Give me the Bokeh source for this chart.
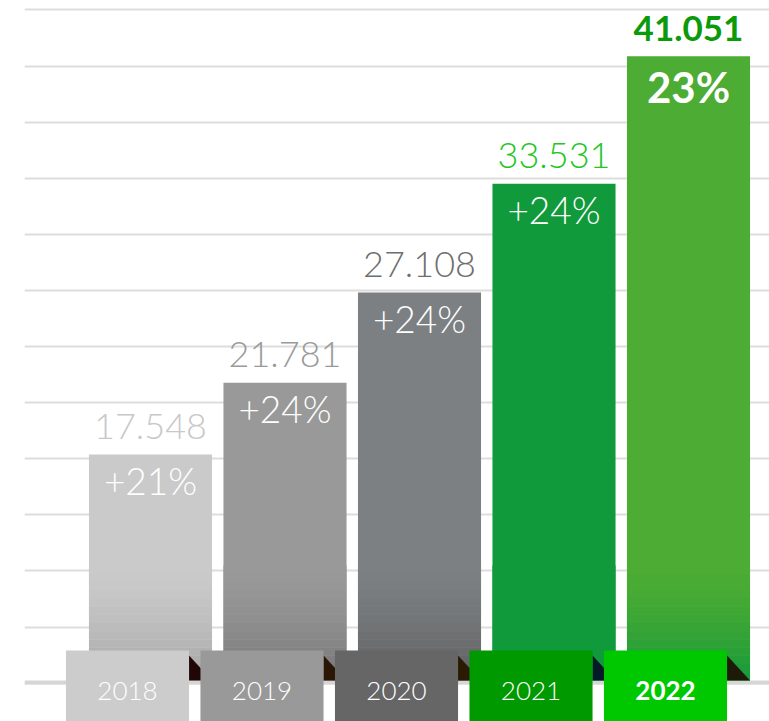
import numpy as np
from bokeh.plotting import figure
from bokeh.models import ColumnDataSource, Range1d, Grid, SingleIntervalTicker, BoxAnnotation
from bokeh.embed import file_html
from bokeh.resources import INLINE

# ---------------- data ----------------
YEARS = ["2018", "2019", "2020", "2021", "2022"]
VALUES = [17548, 21781, 27108, 33531, 41051]
GROWTH = ["+21%", "+24%", "+24%", "+24%", "23%"]

# ---------------- styles ----------------
BAR_TOP = ["#cacaca", "#999999", "#7c8083", "#119a3b", "#4cac34"]
BAR_BOTTOM = ["#a4a4a4", "#767676", "#5e5e5e", "#119a3b", "#14993a"]
VALUE_COLORS = ["#c8c8c8", "#9a9a9a", "#6e6e6e", "#22c622", "#0a9a0a"]
TAB_COLORS = ["#cccccc", "#999999", "#666666", "#009900", "#00c800"]
FOLD_COLORS = ["#200606", "#2a1604", "#2a1c04", "#041a28", "#1e1a0a"]
HIGHLIGHT = [False, False, False, False, True]

LIGHT_FONT = "Lato Light, Lato"
BOLD_FONT = "Lato"

W, H = 769, 721
LEFT_PAD = 24
PX_PER_UNIT = 0.01694        # pixels per value unit
BASE = 4203                  # value at baseline
BASE_PX = 41                 # baseline height above frame bottom (px)
Y0 = BASE - BASE_PX / PX_PER_UNIT
Y1 = Y0 + H / PX_PER_UNIT

BAR_W = 0.915
TAB_SHIFT = -0.171
TAB_H = 30 / PX_PER_UNIT
FOLD_H = 25 / PX_PER_UNIT
GRAD_H = 115 / PX_PER_UNIT
N_GRAD = 14

p = figure(width=W, height=H, output_backend="svg", toolbar_location=None,
           x_range=Range1d(-0.9368, 4.6022), y_range=Range1d(Y0, Y1),
           x_axis_location=None, y_axis_location=None,
           min_border_left=LEFT_PAD, min_border_right=0,
           min_border_top=0, min_border_bottom=0)
p.outline_line_color = None
p.xgrid.visible = False
p.ygrid.visible = False
p.background_fill_color = "white"
p.border_fill_color = "white"

# ---------------- grid lines ----------------
p.extra_y_ranges = {"grid": Range1d(start=-0.683, end=12.169)}
grid = Grid(dimension=1, ticker=SingleIntervalTicker(interval=1), y_range_name="grid",
            grid_line_color="#dddddd", grid_line_width=2, level="underlay")
p.add_layout(grid)

# baseline strip
p.add_layout(BoxAnnotation(bottom=BASE - 4 / PX_PER_UNIT, top=BASE, fill_color="#d6d6d6",
                           fill_alpha=1, line_color=None, level="underlay"))

idx = np.arange(len(YEARS))
vals = np.array(VALUES, dtype=float)

# ---------------- bars ----------------
bars = ColumnDataSource(dict(
    left=idx - BAR_W / 2, right=idx + BAR_W / 2,
    bottom=[BASE] * len(idx), top=vals, color=BAR_TOP))
p.quad(left="left", right="right", bottom="bottom", top="top", source=bars,
       fill_color="color", line_color=None)

# gradient at bar bottoms
def hex2rgb(h):
    h = h.lstrip("#")
    return np.array([int(h[k:k + 2], 16) for k in (0, 2, 4)], dtype=float)

gl, gr, gb, gt, gc = [], [], [], [], []
for i in idx:
    c_top = hex2rgb(BAR_TOP[i])
    c_bot = hex2rgb(BAR_BOTTOM[i])
    for j in range(N_GRAD):
        t = 1 - (j + 0.5) / N_GRAD
        c = c_top + (c_bot - c_top) * t ** 1.6
        gl.append(i - BAR_W / 2)
        gr.append(i + BAR_W / 2)
        gb.append(BASE + GRAD_H * j / N_GRAD)
        gt.append(BASE + GRAD_H * (j + 1) / N_GRAD + 1)
        gc.append("#%02x%02x%02x" % tuple(int(round(v)) for v in c))
gsrc = ColumnDataSource(dict(left=gl, right=gr, bottom=gb, top=gt, color=gc))
p.quad(left="left", right="right", bottom="bottom", top="top", source=gsrc,
       fill_color="color", line_color=None)

# ---------------- labels ----------------
val_text = [f"{v:,}".replace(",", ".") for v in VALUES]
lab = ColumnDataSource(dict(
    x=idx, y=vals, vtext=val_text, vcolor=VALUE_COLORS, gtext=GROWTH,
    vfont=[BOLD_FONT if h else LIGHT_FONT for h in HIGHLIGHT],
    vstyle=["bold" if h else "normal" for h in HIGHLIGHT],
    vsize=["35px" if h else "36px" for h in HIGHLIGHT],
    gsize=["42px" if h else "37px" for h in HIGHLIGHT],
    goff=[31 if h else 26 for h in HIGHLIGHT],
))
p.text(x="x", y="y", text="vtext", source=lab, text_color="vcolor",
       text_font="vfont", text_font_style="vstyle", text_font_size="vsize",
       text_align="center", text_baseline="alphabetic", y_offset=-28)
p.text(x="x", y="y", text="gtext", source=lab, text_color="white",
       text_font="vfont", text_font_style="vstyle", text_font_size="gsize",
       text_align="center", text_baseline="alphabetic", y_offset="goff")

# ---------------- fold triangles ----------------
box_r = idx + TAB_SHIFT + BAR_W / 2
bar_r = idx + BAR_W / 2
folds = ColumnDataSource(dict(
    xs=[[a, b, a] for a, b in zip(box_r, bar_r)],
    ys=[[BASE + FOLD_H, BASE, BASE] for _ in idx],
    color=FOLD_COLORS))
p.patches(xs="xs", ys="ys", source=folds, fill_color="color", line_color=None)

# ---------------- year tabs ----------------
tabs = ColumnDataSource(dict(
    left=idx + TAB_SHIFT - BAR_W / 2, right=idx + TAB_SHIFT + BAR_W / 2,
    bottom=[Y0] * len(idx), top=[BASE + TAB_H] * len(idx), color=TAB_COLORS,
    x=idx + TAB_SHIFT, y=[BASE] * len(idx), text=YEARS,
    font=[BOLD_FONT if h else LIGHT_FONT for h in HIGHLIGHT],
    style=["bold" if h else "normal" for h in HIGHLIGHT]))
p.quad(left="left", right="right", bottom="bottom", top="top", source=tabs,
       fill_color="color", line_color=None)
p.text(x="x", y="y", text="text", source=tabs, text_color="white",
       text_font="font", text_font_style="style", text_font_size="26px",
       text_align="center", text_baseline="alphabetic", y_offset=10)

open("out.html", "w").write(file_html(p, INLINE))
